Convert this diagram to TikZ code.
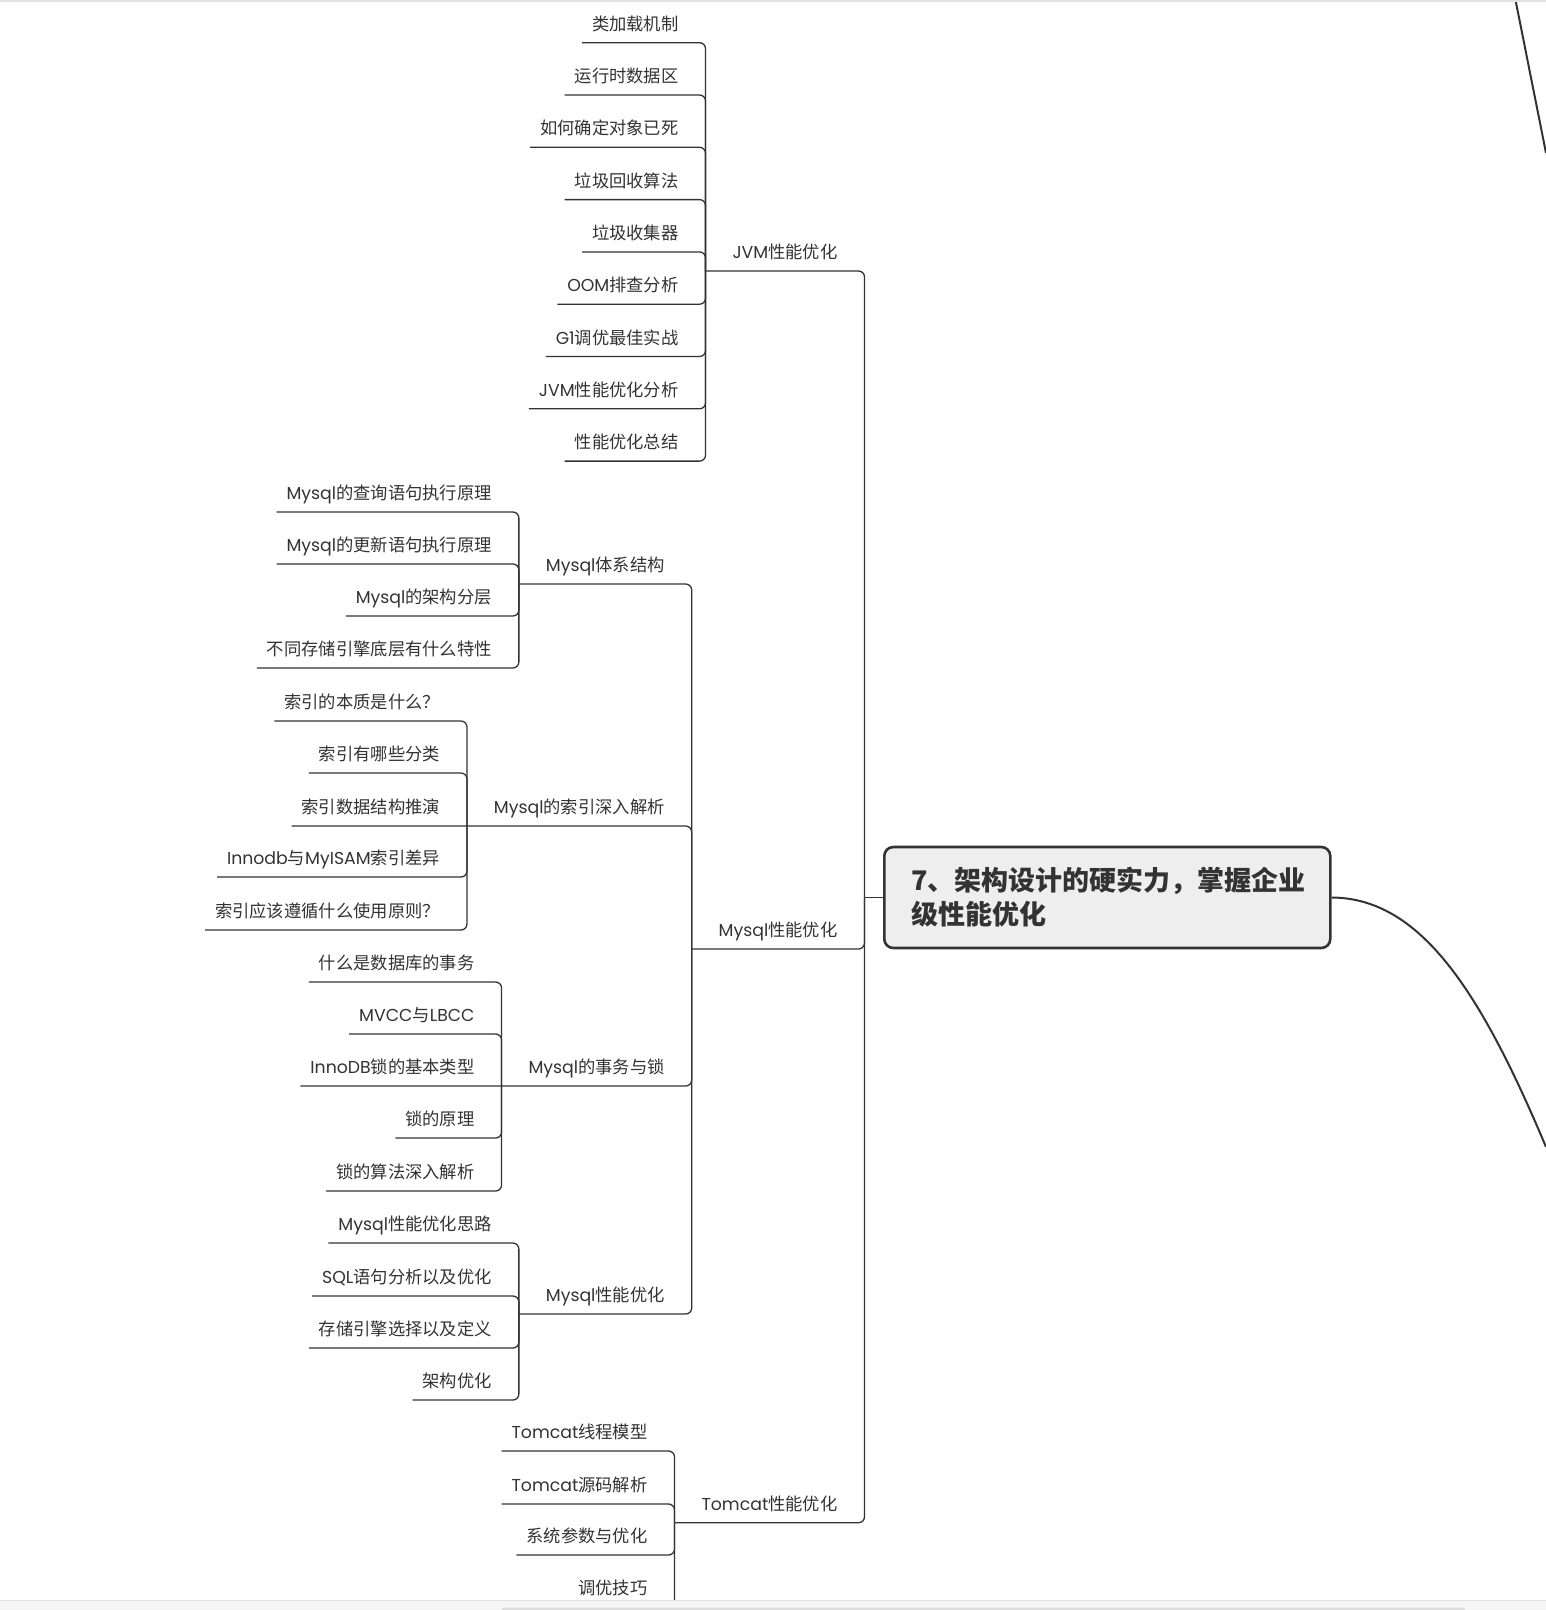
\documentclass[tikz,border=0pt]{standalone}
\usepackage{fontspec}
\setmainfont{Noto Sans CJK SC}
\newfontfamily\latfont{Poppins}
\definecolor{ink}{HTML}{333333}
\definecolor{rootfill}{HTML}{EEEEEE}
\definecolor{topband}{HTML}{E4E4E4}
\definecolor{botfill}{HTML}{F5F5F5}
\definecolor{botline}{HTML}{E2E2E2}
\definecolor{botbar}{HTML}{DCDCDC}
\newcommand\Lt[1]{{\latfont #1}}
\newcommand\leafnode[4]{\node[lf] (#1) at (#2.west |- 0,#3) {#4};\draw[ln] (#2.south west) |- (#1.south west);}
\newcommand\leafonly[4]{\node[lf] (#1) at (#2.west |- 0,#3) {#4};}
\begin{document}
\begin{tikzpicture}[x=1pt,y=-1pt,
  tp/.style={font=\fontsize{17.3}{20}\selectfont, text=ink, inner ysep=0pt, outer sep=0pt, text height=25.6pt, text depth=12.4pt, anchor=east},
  pn/.style={tp, inner xsep=27pt},
  lf/.style={tp, inner xsep=10pt, xshift=-17pt},
  ln/.style={draw=ink, line width=1.3pt, rounded corners=6pt},
  lnstraight/.style={draw=ink, line width=1.3pt},
  rootbox/.style={draw=ink, line width=2.6pt, fill=rootfill, rounded corners=9pt, minimum width=446pt, minimum height=101pt, text width=392pt, align=left, inner xsep=27pt, inner ysep=0pt, font=\fontsize{27}{34}\selectfont\bfseries, text=ink, anchor=west},
  curve/.style={draw=ink, line width=2pt}]
\useasboundingbox (0,0) rectangle (1546,1610);
\clip (0,0) rectangle (1546,1610);
\fill[white] (0,0) rectangle (1546,1610);

% root
\node[rootbox] (root) at (883,897.5) {7、架构设计的硬实力，掌握企业\\级性能优化};
\coordinate (trunk) at (root.west -| 864.5,0);
\coordinate (offA) at (1546,1147);
\coordinate (offB1) at (1515.5,0);
\coordinate (offB2) at (1546,153);
\draw[curve] (root.east) .. controls (1420,898) and (1480,990) .. (offA);
\draw[curve] (offB1) -- (offB2);

% level 1
\node[pn] (J) at (864.5,252) {\Lt{JVM}性能优化};
\node[pn] (M) at (864.5,930) {\Lt{Mysql}性能优化};
\node[pn] (T) at (864.5,1503.7) {\Lt{Tomcat}性能优化};
\draw[lnstraight] (root.west) -- (trunk);
\draw[ln] (trunk) |- (J.south west);
\draw[ln] (trunk) |- (M.south west);
\draw[ln] (trunk) |- (T.south west);

% JVM
\leafnode{j1}{J}{23.7}{类加载机制}
\leafnode{j2}{J}{76.0}{运行时数据区}
\leafnode{j3}{J}{128.3}{如何确定对象已死}
\leafnode{j4}{J}{180.6}{垃圾回收算法}
\leafnode{j5}{J}{232.9}{垃圾收集器}
\leafnode{j6}{J}{285.2}{\Lt{OOM}排查分析}
\leafnode{j7}{J}{337.5}{\Lt{G1}调优最佳实战}
\leafnode{j8}{J}{389.8}{\Lt{JVM}性能优化分析}
\leafnode{j9}{J}{442.1}{性能优化总结}

% Mysql level 2
\node[pn] (M1) at (M.west |- 0,565) {\Lt{Mysql}体系结构};
\node[pn] (M2) at (M.west |- 0,807) {\Lt{Mysql}的索引深入解析};
\node[pn] (M3) at (M.west |- 0,1067) {\Lt{Mysql}的事务与锁};
\node[pn] (M4) at (M.west |- 0,1295) {\Lt{Mysql}性能优化};

\leafnode{a1}{M1}{493}{\Lt{Mysql}的查询语句执行原理}
\leafnode{a2}{M1}{545}{\Lt{Mysql}的更新语句执行原理}
\leafnode{a3}{M1}{597}{\Lt{Mysql}的架构分层}
\leafnode{a4}{M1}{649}{不同存储引擎底层有什么特性}

\leafnode{b1}{M2}{702}{索引的本质是什么？}
\leafnode{b2}{M2}{754}{索引有哪些分类}
\leafonly{b3}{M2}{807}{索引数据结构推演}
\leafnode{b4}{M2}{858}{\Lt{Innodb}与\Lt{MyISAM}索引差异}
\leafnode{b5}{M2}{911}{索引应该遵循什么使用原则？}

\leafnode{c1}{M3}{963}{什么是数据库的事务}
\leafnode{c2}{M3}{1015}{\Lt{MVCC}与\Lt{LBCC}}
\leafonly{c3}{M3}{1067}{\Lt{InnoDB}锁的基本类型}
\leafnode{c4}{M3}{1119}{锁的原理}
\leafnode{c5}{M3}{1172}{锁的算法深入解析}

\draw[ln] (M.south west) |- (M1.south west);
\draw[ln] (M.south west) |- (M2.south west) -- (b3.south west);
\draw[ln] (M.south west) |- (M3.south west) -- (c3.south west);
\draw[ln] (M.south west) |- (M4.south west);

\leafnode{d1}{M4}{1224}{\Lt{Mysql}性能优化思路}
\leafnode{d2}{M4}{1277}{\Lt{SQL}语句分析以及优化}
\leafnode{d3}{M4}{1329}{存储引擎选择以及定义}
\leafnode{d4}{M4}{1381}{架构优化}

% Tomcat
\leafnode{t1}{T}{1432}{\Lt{Tomcat}线程模型}
\leafnode{t2}{T}{1485}{\Lt{Tomcat}源码解析}
\leafnode{t3}{T}{1536}{系统参数与优化}
\leafnode{t4}{T}{1588}{调优技巧}

% window bands
\fill[topband] (0,0) rectangle (1546,2.3);
\fill[botfill] (0,1600) rectangle (1546,1610);
\draw[botline, line width=1pt] (0,1600) -- (1546,1600);
\fill[botbar, rounded corners=1.5pt] (502,1607.5) rectangle (1465,1613);
\end{tikzpicture}
\end{document}
